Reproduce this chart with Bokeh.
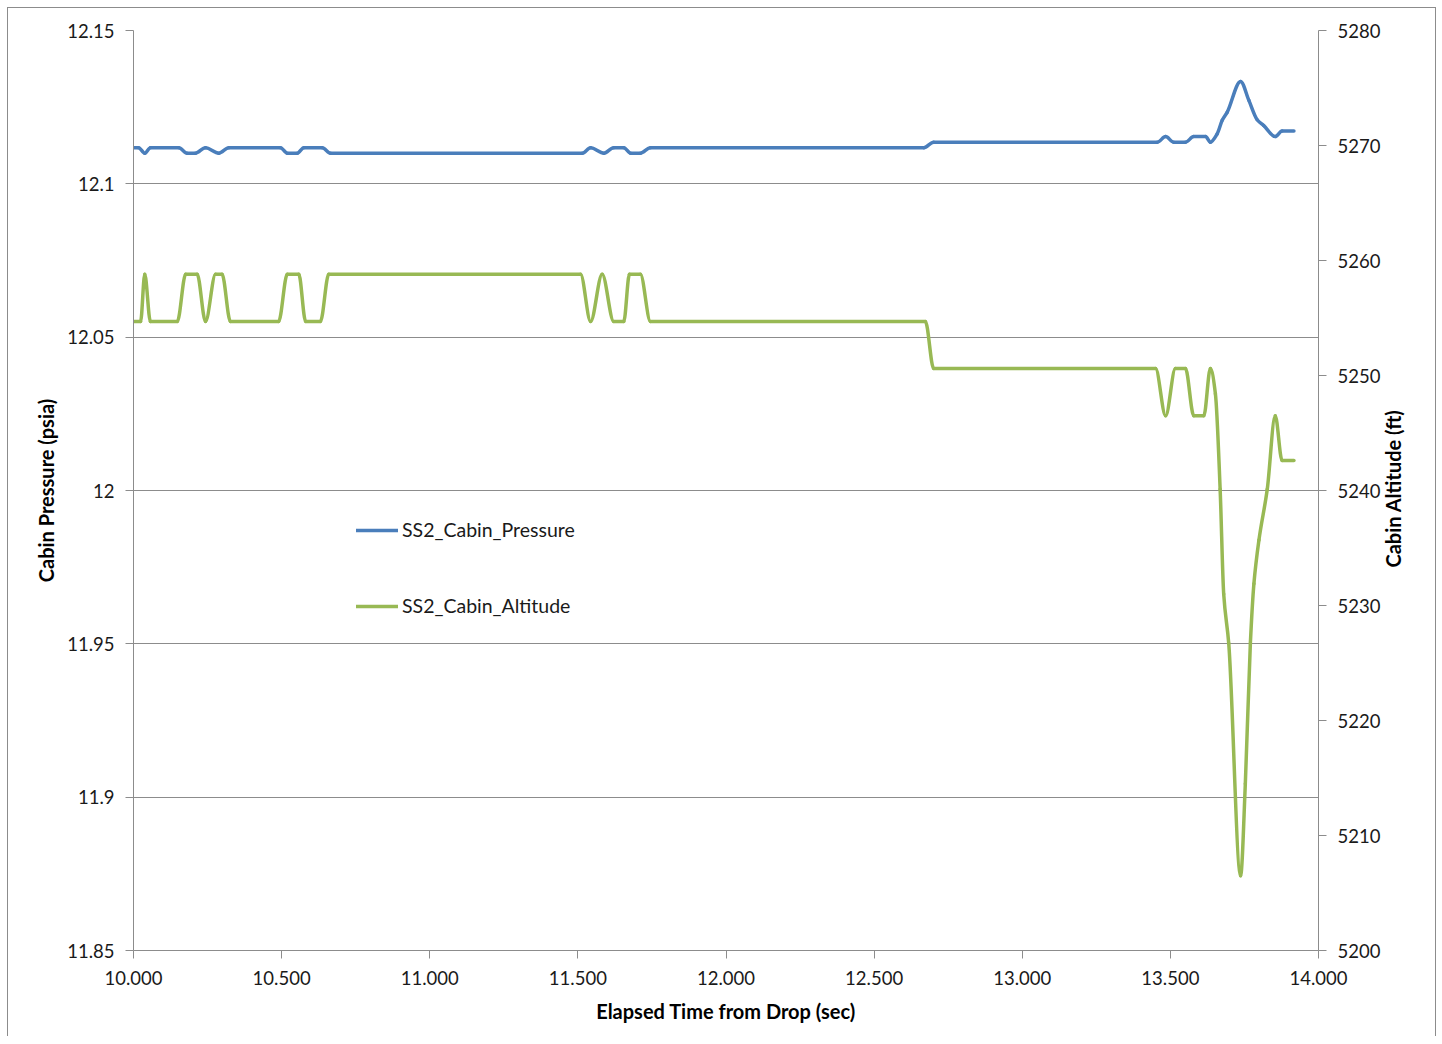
import math
import numpy as np
from bokeh.plotting import figure
from bokeh.models import Range1d, LinearAxis, FixedTicker, Legend, LegendItem
from bokeh.embed import file_html
from bokeh.resources import INLINE

# ---------------- data ----------------
pressure_time = [10.000, 10.017, 10.038, 10.057, 10.153, 10.181, 10.209, 10.243,
                 10.288, 10.322, 10.496, 10.519, 10.553, 10.575, 10.637, 10.665,
                 11.515, 11.543, 11.588, 11.621, 11.655, 11.678, 11.711, 11.745,
                 12.668, 12.701, 13.456, 13.484, 13.511, 13.551, 13.579, 13.619,
                 13.635, 13.658, 13.675, 13.692, 13.737, 13.765, 13.793, 13.815,
                 13.854, 13.877, 13.917]
pressure_psia = [12.1118, 12.1118, 12.1100, 12.1118, 12.1118, 12.1100, 12.1100, 12.1118,
                 12.1100, 12.1118, 12.1118, 12.1100, 12.1100, 12.1118, 12.1118, 12.1100,
                 12.1100, 12.1118, 12.1100, 12.1118, 12.1118, 12.1100, 12.1100, 12.1118,
                 12.1118, 12.1136, 12.1136, 12.1154, 12.1136, 12.1136, 12.1154, 12.1154,
                 12.1136, 12.1163, 12.1207, 12.1234, 12.1334, 12.1272, 12.1209, 12.1190,
                 12.1154, 12.1172, 12.1172]

altitude_time = [10.000, 10.024, 10.038, 10.057, 10.148, 10.176, 10.215, 10.243,
                 10.277, 10.299, 10.327, 10.490, 10.519, 10.558, 10.581, 10.631,
                 10.659, 11.509, 11.543, 11.582, 11.621, 11.655, 11.674, 11.711,
                 11.745, 12.673, 12.701, 13.450, 13.484, 13.517, 13.551, 13.579,
                 13.613, 13.635, 13.652, 13.668, 13.680, 13.697, 13.737, 13.753,
                 13.770, 13.782, 13.799, 13.827, 13.854, 13.877, 13.917]
altitude_ft = [5254.7, 5254.7, 5258.8, 5254.7, 5254.7, 5258.8, 5258.8, 5254.7,
               5258.8, 5258.8, 5254.7, 5254.7, 5258.8, 5258.8, 5254.7, 5254.7,
               5258.8, 5258.8, 5254.7, 5258.8, 5254.7, 5254.7, 5258.8, 5258.8,
               5254.7, 5254.7, 5250.6, 5250.6, 5246.5, 5250.6, 5250.6, 5246.5,
               5246.5, 5250.6, 5248.4, 5240.1, 5231.0, 5226.7, 5206.5, 5214.5,
               5226.7, 5231.9, 5235.7, 5240.1, 5246.5, 5242.6, 5242.6]

series_names = ["SS2_Cabin_Pressure", "SS2_Cabin_Altitude"]

x_ticks = [10.0, 10.5, 11.0, 11.5, 12.0, 12.5, 13.0, 13.5, 14.0]
x_tick_labels = ["10.000", "10.500", "11.000", "11.500", "12.000",
                 "12.500", "13.000", "13.500", "14.000"]
pressure_ticks = [11.85, 11.9, 11.95, 12.0, 12.05, 12.1, 12.15]
pressure_tick_labels = ["11.85", "11.9", "11.95", "12", "12.05", "12.1", "12.15"]
pressure_grid = [11.9, 11.95, 12.0, 12.05, 12.1]
altitude_ticks = [5200, 5210, 5220, 5230, 5240, 5250, 5260, 5270, 5280]
altitude_tick_labels = ["5200", "5210", "5220", "5230", "5240",
                        "5250", "5260", "5270", "5280"]
altitude_title = "Cabin Altitude (ft)"


def smooth(xs, ys):
    """Smoothed line drawn as cubic Bezier segments through the points
    (monotone Hermite tangents, so flat stretches stay flat)."""
    x = np.asarray(xs, dtype=float)
    y = np.asarray(ys, dtype=float)
    h = np.diff(x)
    d = np.diff(y) / h
    n = len(x)
    m = np.zeros(n)
    for k in range(1, n - 1):
        if d[k - 1] * d[k] > 0:
            w1 = 2 * h[k] + h[k - 1]
            w2 = h[k] + 2 * h[k - 1]
            m[k] = (w1 + w2) / (w1 / d[k - 1] + w2 / d[k])
    return dict(
        x0=x[:-1], y0=y[:-1], x1=x[1:], y1=y[1:],
        cx0=x[:-1] + h / 3.0, cy0=y[:-1] + m[:-1] * h / 3.0,
        cx1=x[1:] - h / 3.0, cy1=y[1:] - m[1:] * h / 3.0,
    )


# ---------------- styling ----------------
FONT = "Lato"
GRID = "#8c8c8c"
BLUE = "#4a7ebb"
GREEN = "#98b954"

p = figure(width=1429, height=1029,
           x_range=Range1d(10, 14), y_range=Range1d(11.85, 12.15),
           output_backend="svg", toolbar_location=None,
           min_border_left=125, min_border_right=119,
           min_border_top=22, min_border_bottom=87)
p.extra_y_ranges = {"alt": Range1d(5200, 5280)}
p.outline_line_color = None
p.background_fill_color = "white"
p.border_fill_color = "white"
p.styles = {"margin-left": "7px", "margin-top": "7px",
            "border-left": "1px solid #8c8c8c",
            "border-top": "1px solid #8c8c8c",
            "border-right": "1px solid #8c8c8c"}

p.xgrid.visible = False
p.ygrid.ticker = FixedTicker(ticks=pressure_grid)
p.ygrid.grid_line_color = GRID
p.ygrid.grid_line_width = 1

right_axis = LinearAxis(y_range_name="alt")
p.add_layout(right_axis, "right")

xa = p.xaxis[0]
xa.ticker = FixedTicker(ticks=x_ticks)
xa.major_label_overrides = dict(zip(x_ticks, x_tick_labels))
xa.axis_label = "Elapsed Time from Drop (sec)"

ya = p.yaxis[0]
ya.ticker = FixedTicker(ticks=pressure_ticks)
ya.major_label_overrides = dict(zip(pressure_ticks, pressure_tick_labels))
ya.axis_label = "Cabin Pressure (psia)"

right_axis.ticker = FixedTicker(ticks=altitude_ticks)
right_axis.major_label_overrides = dict(zip(altitude_ticks, altitude_tick_labels))

for ax in (xa, ya, right_axis):
    ax.axis_line_color = GRID
    ax.axis_line_width = 1
    ax.major_tick_line_color = GRID
    ax.major_tick_out = 8
    ax.major_tick_in = 0
    ax.minor_tick_line_color = None
    ax.major_label_text_font = FONT
    ax.major_label_text_font_size = "18.5px"
    ax.major_label_text_color = "#1a1a1a"
    ax.major_label_standoff = 11
    ax.axis_label_text_font = FONT
    ax.axis_label_text_font_size = "20px"
    ax.axis_label_text_font_style = "bold"
    ax.axis_label_text_color = "black"
    ax.axis_label_standoff = 10
xa.major_label_standoff = 12
xa.axis_label_standoff = 11
ya.axis_label_standoff = 6

# right axis title, reading bottom-to-top like the left one: carried as the
# single rotated label of a second, otherwise invisible right axis; the text
# starts at the anchor, so the anchor sits where the title's first letter is
title_start = 5233.3
title_axis = LinearAxis(y_range_name="alt", ticker=FixedTicker(ticks=[title_start]))
title_axis.major_label_overrides = {title_start: altitude_title}
title_axis.major_label_orientation = math.pi / 2
title_axis.axis_line_color = None
title_axis.major_tick_line_color = None
title_axis.major_tick_out = 0
title_axis.major_tick_in = 0
title_axis.minor_tick_line_color = None
title_axis.major_label_standoff = 10
title_axis.major_label_text_font = FONT
title_axis.major_label_text_font_size = "20px"
title_axis.major_label_text_font_style = "bold"
title_axis.major_label_text_color = "black"
p.add_layout(title_axis, "right")

r_p = p.bezier(line_color=BLUE, line_width=3.5, line_cap="round",
               **smooth(pressure_time, pressure_psia))
r_a = p.bezier(line_color=GREEN, line_width=3.5, line_cap="round",
               y_range_name="alt", **smooth(altitude_time, altitude_ft))

legend = Legend(items=[LegendItem(label=series_names[0], renderers=[r_p]),
                       LegendItem(label=series_names[1], renderers=[r_a])],
                location=(223, 333))
legend.border_line_color = None
legend.background_fill_alpha = 0
legend.padding = 0
legend.margin = 0
legend.spacing = 53
legend.glyph_width = 42
legend.glyph_height = 20
legend.label_standoff = 4
legend.label_text_font = FONT
legend.label_text_font_size = "19.5px"
legend.label_text_color = "#1a1a1a"
p.add_layout(legend, "center")

open("out.html", "w").write(file_html(p, INLINE))
